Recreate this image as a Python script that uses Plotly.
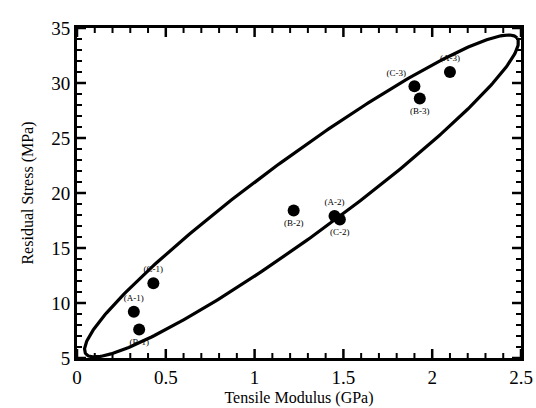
import numpy as np
import plotly.graph_objects as go

# ---- data ----
sample_labels = ["(A-1)", "(B-1)", "(C-1)", "(B-2)", "(A-2)", "(C-2)", "(C-3)", "(B-3)", "(A-3)"]
tensile_modulus = [0.32, 0.35, 0.43, 1.22, 1.45, 1.48, 1.90, 1.93, 2.10]
residual_stress = [9.2, 7.6, 11.8, 18.4, 17.9, 17.6, 29.7, 28.6, 31.0]

x_major_ticks = [0, 0.5, 1, 1.5, 2, 2.5]
x_tick_text = ["0", "0.5", "1", "1.5", "2", "2.5"]
y_major_ticks = [5, 10, 15, 20, 25, 30, 35]
x_minor_ticks = [round(v, 1) for v in np.arange(0, 2.51, 0.1) if round(v, 1) not in x_major_ticks]
y_minor_ticks = [v for v in range(5, 36) if v not in y_major_ticks]

# hand-drawn confidence ellipse (centre in data units, semi-axes as plot-width fractions)
ell_center = (1.264, 19.73)
ell_semi_major = 0.602
ell_semi_minor = 0.088
ell_angle_deg = 36.2

# ---- figure geometry ----
W, H = 536, 408
ML, MR, MT, MB = 77, 15, 28, 50
PW, PH = W - ML - MR, H - MT - MB
XR, YR = (0, 2.5), (5, 35)
XU = (XR[1] - XR[0]) / PW   # data units per pixel
YU = (YR[1] - YR[0]) / PH

t = np.linspace(0, 2 * np.pi, 400)
th = np.deg2rad(ell_angle_deg)
a_px, b_px = ell_semi_major * PW, ell_semi_minor * PW
dx = a_px * np.cos(t) * np.cos(th) - b_px * np.sin(t) * np.sin(th)
dy = a_px * np.cos(t) * np.sin(th) + b_px * np.sin(t) * np.cos(th)
ex = ell_center[0] + dx * XU
ey = ell_center[1] + dy * YU

label_pos = ["top center", "bottom center", "top center", "bottom center", "top center",
             "bottom center", "top left", "bottom center", "top center"]

serif = "Liberation Serif"
fig = go.Figure()

# inside tick marks on all four sides, built from the tick lists
def tick_segments(xvals, yvals, major_len, minor_len, major):
    L = major_len if major else minor_len
    sx, sy = [], []
    for v in xvals:
        sx += [v, v, None, v, v, None]
        sy += [YR[0], YR[0] + L * YU, None, YR[1], YR[1] - L * YU, None]
    for v in yvals:
        sx += [XR[0], XR[0] + L * XU, None, XR[1], XR[1] - L * XU, None]
        sy += [v, v, None, v, v, None]
    return sx, sy

for major, xv, yv, w in ((True, x_major_ticks, y_major_ticks, 2.5),
                         (False, x_minor_ticks, y_minor_ticks, 2.0)):
    sx, sy = tick_segments(xv, yv, 9, 5, major)
    fig.add_trace(go.Scatter(x=sx, y=sy, mode="lines", line=dict(color="black", width=w),
                             hoverinfo="skip", showlegend=False, cliponaxis=False))

fig.add_trace(go.Scatter(x=ex, y=ey, mode="lines", line=dict(color="black", width=3.2),
                         hoverinfo="skip", showlegend=False))
fig.add_trace(go.Scatter(
    x=tensile_modulus, y=residual_stress, mode="markers+text",
    text=sample_labels, textposition=label_pos,
    textfont=dict(family=serif, size=9, color="black"),
    marker=dict(color="black", size=12), showlegend=False))

axis_common = dict(showline=True, linecolor="black", linewidth=3, mirror=True,
                   ticks="", showgrid=False, zeroline=False,
                   tickfont=dict(family=serif, size=19, color="black"))
fig.update_xaxes(range=list(XR), tickmode="array", tickvals=x_major_ticks, ticktext=x_tick_text,
                 title=dict(text="Tensile Modulus (GPa)", font=dict(family=serif, size=16, color="black"),
                            standoff=6),
                 **axis_common)
fig.update_yaxes(range=list(YR), tickmode="array", tickvals=y_major_ticks,
                 title=dict(text="Residual Stress (MPa)", font=dict(family=serif, size=16, color="black"),
                            standoff=14),
                 **axis_common)
fig.update_layout(width=W, height=H, margin=dict(l=ML, r=MR, t=MT, b=MB, autoexpand=False),
                  paper_bgcolor="white", plot_bgcolor="white")
fig.write_html("out.html")
